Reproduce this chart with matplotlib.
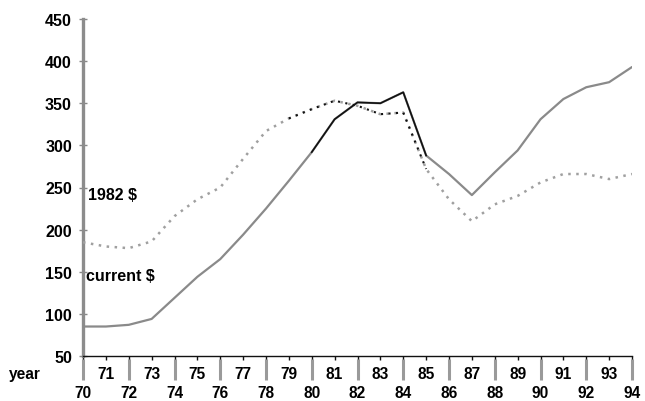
import matplotlib
matplotlib.use("Agg")
import matplotlib.pyplot as plt

years = list(range(70, 95))
current = [85, 85, 87, 94, 119, 144, 165, 194, 225, 258, 292, 331, 351, 350, 363,
           288, 266, 241, 268, 294, 331, 355, 369, 375, 393]
real82 = [185, 180, 178, 186, 216, 236, 250, 284, 317, 332, 343, 353, 347, 337, 339,
          272, 236, 210, 230, 240, 256, 266, 266, 260, 266]
yticks = [50, 100, 150, 200, 250, 300, 350, 400, 450]
odd_years = [y for y in years if y % 2 == 1]
even_years = [y for y in years if y % 2 == 0]

plt.rcParams['font.family'] = ['Liberation Sans', 'DejaVu Sans']

fig = plt.figure(figsize=(6.45, 4.02), dpi=100)
ax = fig.add_axes([83 / 645, 45 / 402, (632 - 83) / 645, 337 / 402])
ax.set_xlim(70, 94)
ax.set_ylim(50, 450)

# series (scan shows grey ends and black middle)
ax.plot(years, current, color='#8a8a8a', lw=1.6, solid_capstyle='round', zorder=3)
ax.plot(years[10:16], current[10:16], color='#111111', lw=1.2, zorder=4)
ax.plot(years, real82, color='#a0a0a0', lw=1.8, ls=(0, (1, 2.2)), zorder=3)
ax.plot(years[9:16], real82[9:16], color='#111111', lw=1.5, ls=(0, (1, 2.6)), zorder=4)

# spines
for s in ['top', 'right']:
    ax.spines[s].set_visible(False)
ax.spines['left'].set_color('#8c8c8c')
ax.spines['left'].set_linewidth(2.4)
ax.spines['bottom'].set_color('#111111')
ax.spines['bottom'].set_linewidth(1.0)

# y ticks
ax.set_yticks(yticks)
ax.set_yticklabels([str(v) for v in yticks], fontsize=11.5, fontweight='bold')
ax.tick_params(axis='y', direction='inout', length=6, width=1, color='#888888', pad=5)

# x ticks: small black ticks at every year, labels drawn manually in two rows
ax.set_xticks(years)
ax.set_xticklabels([])
ax.tick_params(axis='x', direction='out', length=3, width=1, color='#111111')

trans = ax.get_xaxis_transform()
for y in even_years:
    ax.plot([y, y], [-0.008, -0.07], transform=trans, color='#9a9a9a', lw=2.2,
            clip_on=False, solid_capstyle='butt')
    ax.text(y, -0.108, str(y), transform=trans, ha='center', va='center',
            fontsize=11.2, fontweight='bold')
for y in odd_years:
    ax.text(y, -0.053, str(y), transform=trans, ha='center', va='center',
            fontsize=11.2, fontweight='bold')
fig.text(25 / 645, 1 - 375 / 402, 'year', ha='center', va='center',
         fontsize=11.2, fontweight='bold')

# series labels
ax.text(70.2, 242, '1982 $', ha='left', va='center', fontsize=11.5, fontweight='bold')
ax.text(70.15, 145, 'current $', ha='left', va='center', fontsize=11.5, fontweight='bold')

fig.savefig('out.png', dpi=100, facecolor='white')
